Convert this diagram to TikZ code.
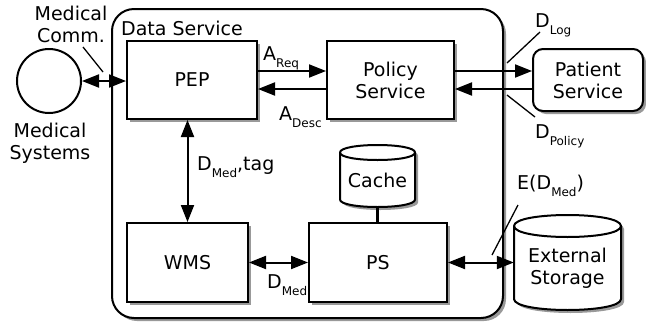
\documentclass[tikz,border=0pt]{standalone}
\usepackage{fontspec}
\setmainfont{DejaVu Sans}
\usetikzlibrary{arrows.meta,shadows}
\newcommand\sbs[1]{\raisebox{-0.42em}{\fontsize{12}{12}\selectfont #1}}
\newcommand\cyl[5]{%
 \fill[black,opacity=0.4,xshift=3pt,yshift=-3pt] ({#1},{#3+#5}) -- ({#1},{#4-#5}) .. controls ({#1},{#4-#5+1.333*#5}) and ({#2},{#4-#5+1.333*#5}) .. ({#2},{#4-#5}) -- ({#2},{#3+#5}) .. controls ({#2},{#3+#5-1.333*#5}) and ({#1},{#3+#5-1.333*#5}) .. cycle;
 \filldraw[fill=white,line width=2pt] ({#1},{#3+#5}) -- ({#1},{#4-#5}) .. controls ({#1},{#4-#5+1.333*#5}) and ({#2},{#4-#5+1.333*#5}) .. ({#2},{#4-#5}) -- ({#2},{#3+#5}) .. controls ({#2},{#3+#5-1.333*#5}) and ({#1},{#3+#5-1.333*#5}) .. cycle;
 \draw[line width=2pt] ({#1},{#3+#5}) .. controls ({#1},{#3+#5+1.333*#5}) and ({#2},{#3+#5+1.333*#5}) .. ({#2},{#3+#5});
}
\begin{document}
\begin{tikzpicture}[x=1pt,y=-1pt,font=\fontsize{19}{22}\selectfont,
 box/.style={draw,line width=2pt,fill=white,inner sep=0pt,align=center,
   drop shadow={shadow xshift=3pt,shadow yshift=-3pt,fill=black,opacity=0.4}},
 arr/.style={line width=2pt,{Triangle[length=17pt,width=13pt]}-{Triangle[length=17pt,width=13pt]}},
 sarr/.style={line width=2pt,-{Triangle[length=17pt,width=13pt]}},
 lead/.style={line width=1.3pt},
 lbl/.style={inner sep=0pt,anchor=base west},
 txt/.style={inner sep=0pt,align=center}]
\useasboundingbox (0,0) rectangle (646,325);
% data service container
\node[box,rounded corners=22pt,minimum width=391pt,minimum height=309pt] (ds) at (307.5,163.5) {};
\node[lbl] (dstitle) at (121,35) {Data Service};
% boxes
\node[box,minimum width=130pt,minimum height=78pt] (pep) at (192,80) {PEP};
\node[box,minimum width=127pt,minimum height=78pt] (pol) at (390.5,80) {Policy\\Service};
\node[box,rounded corners=10pt,minimum width=110pt,minimum height=62pt] (pat) at (588,80) {Patient\\Service};
\node[box,minimum width=121pt,minimum height=79pt] (wms) at (187.5,262.5) {WMS};
\node[box,minimum width=138pt,minimum height=79pt] (ps) at (378,262.5) {PS};
% cylinders
\cyl{340}{415}{145}{207}{7.5}
\node[txt,minimum width=75pt,minimum height=54pt] (cache) at (377.5,180) {Cache};
\cyl{514}{621}{215}{310}{11}
\node[txt,minimum width=107pt,minimum height=84pt] (ext) at (567.5,268) {External\\Storage};
% medical systems
\node[draw,circle,line width=2pt,minimum size=64pt,inner sep=0pt] (med) at (49,81) {};
\node[txt] (medlbl) at (50,143) {Medical\\Systems};
\node[txt] (comlbl) at (71,24) {Medical\\Comm.};
% connectors
\draw[arr] (med.east) -- (med.east -| pep.west);
\draw[sarr] ([yshift=9pt]pep.east) -- ([yshift=9pt]pep.east -| pol.west);
\draw[sarr] ([yshift=-9pt]pol.west) -- ([yshift=-9pt]pol.west -| pep.east);
\draw[sarr] ([yshift=9pt]pol.east) -- ([yshift=9pt]pol.east -| pat.west);
\draw[sarr] ([yshift=-9pt]pat.west) -- ([yshift=-9pt]pat.west -| pol.east);
\draw[arr] (pep.south -| wms.north) -- (wms.north);
\draw[arr] (wms.east) -- (wms.east -| ps.west);
\draw[arr] (ps.east) -- (ps.east -| ext.west);
\draw[line width=2.5pt] (cache.south) -- (cache.south |- ps.north);
% leader lines
\coordinate (c1) at (83,47); \coordinate (c2) at (103,72);
\draw[lead] (c1) -- (c2);
\coordinate (l1) at (507,63); \coordinate (l2) at (540,32);
\draw[lead] (l1) -- (l2);
\coordinate (p1) at (507,95); \coordinate (p2) at (535,117);
\draw[lead] (p1) -- (p2);
\coordinate (e1) at (492,255); \coordinate (e2) at (518,205);
\draw[lead] (e1) -- (e2);
% labels
\node[lbl] (areq) at (263,60) {A\sbs{Req}};
\node[lbl] (adesc) at (279,120) {A\sbs{Desc}};
\node[lbl] (dlog) at (535,27) {D\sbs{Log}};
\node[lbl] (dpol) at (535,138) {D\sbs{Policy}};
\node[lbl] (dmedtag) at (197,170) {D\sbs{Med},tag};
\node[lbl] (dmed) at (267,288) {D\sbs{Med}};
\node[lbl] (edmed) at (517,189) {E(D\sbs{Med})};
\end{tikzpicture}
\end{document}
